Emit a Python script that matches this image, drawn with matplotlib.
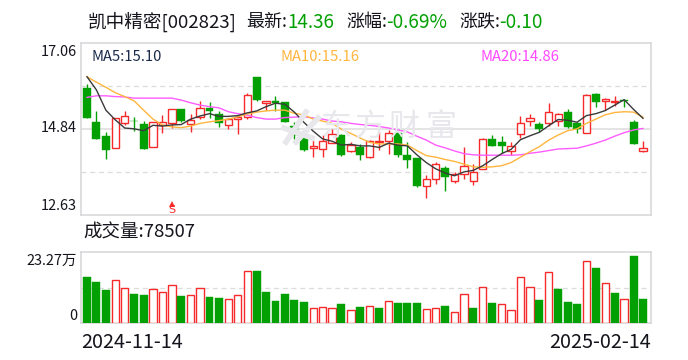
import matplotlib
matplotlib.use("Agg")
import matplotlib.pyplot as plt
from matplotlib.lines import Line2D

plt.rcParams['font.family'] = ['Noto Sans CJK SC', 'DejaVu Sans']

opens = [15.90,15.03,14.66,14.35,14.99,15.06,14.97,14.37,14.95,14.99,
         15.35,14.97,15.15,15.39,15.23,14.95,15.09,15.15,16.18,15.52,
         15.56,15.54,14.92,14.61,14.35,14.32,14.48,14.69,14.29,14.39,
         14.13,14.51,14.54,14.75,14.18,14.10,13.38,13.57,13.84,13.51,
         13.68,13.50,13.81,14.58,14.51,14.29,14.72,15.04,14.97,15.01,
         15.04,15.28,15.00,14.75,15.75,15.57,15.54,15.59,15.03,14.29]
closes = [15.14,14.60,14.31,15.13,15.17,15.04,14.34,15.02,15.02,15.35,
          15.06,15.07,15.38,15.32,15.01,15.09,15.16,15.71,15.59,15.56,
          15.51,15.03,14.70,14.30,14.40,14.54,14.71,14.18,14.43,14.18,
          14.54,14.54,14.73,14.18,14.05,13.38,13.55,13.94,13.62,13.69,
          13.88,13.75,14.58,14.42,14.42,14.42,14.99,15.12,14.85,15.27,
          15.22,14.90,14.84,15.71,15.54,15.62,15.57,15.57,14.47,14.36]
highs = [16.00,15.31,14.77,15.13,15.31,15.15,15.06,15.02,15.21,15.35,
         15.35,15.23,15.57,15.55,15.30,15.13,15.20,15.76,16.18,15.56,
         15.70,15.54,15.03,14.74,14.56,14.69,14.84,14.72,14.52,14.46,
         14.57,14.77,14.82,14.80,14.50,14.10,13.66,14.00,13.89,13.73,
         14.38,13.94,14.61,14.69,14.66,14.51,15.18,15.23,15.03,15.51,
         15.26,15.36,15.03,15.74,15.77,15.64,15.70,15.59,15.08,14.54]
lows = [15.13,14.59,14.07,14.35,14.95,14.79,14.34,14.37,14.73,14.87,
        15.03,14.76,15.09,15.12,14.90,14.85,14.72,15.09,15.56,15.33,
        15.32,15.03,14.59,14.29,14.13,14.13,14.48,14.16,14.24,14.05,
        14.11,14.30,14.20,14.13,13.85,13.34,13.07,13.43,13.26,13.46,
        13.56,13.41,13.81,14.41,14.22,14.17,14.62,14.92,14.77,14.92,
        14.93,14.87,14.75,14.75,15.41,15.33,15.44,15.41,14.47,14.25]
ma5 = [16.19,15.85,15.33,15.08,14.87,14.85,14.80,14.94,14.92,14.95,
       14.96,15.10,15.18,15.24,15.17,15.17,15.19,15.26,15.31,15.42,
       15.51,15.48,15.28,15.02,14.79,14.59,14.53,14.43,14.45,14.41,
       14.41,14.37,14.48,14.43,14.41,14.18,13.98,13.82,13.71,13.64,
       13.74,13.78,13.90,14.06,14.21,14.32,14.57,14.67,14.76,14.93,
       15.09,15.07,15.02,15.19,15.24,15.32,15.46,15.60,15.35,15.12]
ma10 = [16.19,16.05,15.92,15.78,15.68,15.57,15.33,15.10,14.95,14.90,
        14.88,14.92,14.99,15.03,15.06,15.10,15.16,15.23,15.28,15.31,
        15.33,15.33,15.25,15.21,15.10,15.05,14.99,14.84,14.73,14.61,
        14.50,14.46,14.46,14.46,14.43,14.29,14.16,14.12,14.06,14.01,
        13.94,13.87,13.86,13.87,13.90,13.98,14.12,14.26,14.39,14.56,
        14.69,14.80,14.85,14.99,15.10,15.21,15.27,15.29,15.28,15.15]
ma20 = [15.66,15.70,15.70,15.68,15.67,15.64,15.64,15.64,15.64,15.64,
        15.59,15.52,15.46,15.42,15.39,15.29,15.24,15.20,15.14,15.10,
        15.10,15.14,15.15,15.16,15.13,15.10,15.05,15.03,14.99,14.96,
        14.94,14.91,14.87,14.82,14.77,14.66,14.56,14.43,14.36,14.28,
        14.21,14.18,14.17,14.17,14.17,14.17,14.18,14.22,14.25,14.29,
        14.33,14.34,14.35,14.41,14.48,14.56,14.66,14.75,14.82,14.86]
volumes = [15.08,13.44,10.82,13.98,11.36,9.50,9.18,11.03,10.05,12.35,
           8.85,9.07,11.36,8.52,8.19,7.76,9.07,16.93,17.04,10.16,
           7.21,9.50,7.54,6.88,4.81,5.13,4.81,6.23,4.15,5.24,
           5.46,4.92,7.10,6.56,6.56,6.56,4.48,4.81,5.57,3.50,
           9.40,4.92,11.69,6.56,6.12,4.15,14.97,11.69,7.54,16.61,
           11.14,6.88,6.23,20.21,18.03,13.00,9.83,7.76,21.96,7.85]
vol_rising = [0,0,0,1,1,0,0,1,1,1,0,1,1,0,0,1,1,1,0,0,
              0,0,0,0,1,1,1,0,1,0,1,0,1,0,0,0,1,1,0,1,
              1,0,1,0,1,1,1,1,0,1,0,0,0,1,0,1,0,1,0,0]

price_ticks = [17.06, 14.84, 12.63]
vol_top = 23.27
vol_grid = 11.635
price_grid = [15.95, 14.845, 13.74]
signal_index = 9
start_label = "2024-11-14"
end_label = "2025-02-14"

RED = '#f62a2a'
GREEN = '#03a003'
BORDER = '#d6d6da'
GRID = '#dcdcdc'
INK = '#14141c'
MARK = '#e7e7ec'
W, H = 688, 360

fig = plt.figure(figsize=(W / 100, H / 100), dpi=100, facecolor='white')


def box(left, top, right, bottom):
    return [left / W, 1 - bottom / H, (right - left) / W, (bottom - top) / H]


def ptext(x, y, s, size, color=INK, ha='left', **kw):
    return fig.text(x / W, 1 - y / H, s, fontsize=size * 0.72, color=color,
                    ha=ha, va='center', **kw)


ax = fig.add_axes(box(81, 43, 651, 215))
vax = fig.add_axes(box(81, 252, 651, 323))
xlim = (-0.64, 59.85)
for a in (ax, vax):
    a.set_xlim(*xlim)
    a.set_xticks([])
    a.set_yticks([])
    for s in a.spines.values():
        s.set_color(BORDER)
        s.set_linewidth(1.1)
    a.set_axisbelow(True)
    a.patch.set_alpha(0)
ax.set_ylim(price_ticks[-1], price_ticks[0])
vax.set_ylim(0, vol_top)

# grid
ax.axhline(price_grid[0], color=GRID, lw=0.9, ls=(0, (4, 3)), zorder=1)
ax.axhline(price_grid[1], color=GRID, lw=1.1, zorder=1)
ax.axhline(price_grid[2], color=GRID, lw=0.9, ls=(0, (4, 3)), zorder=1)
vax.axhline(vol_grid, color=GRID, lw=0.9, ls=(0, (4, 3)), zorder=1)

# watermark
for cx, ch in zip((336, 370, 404, 441), "东方财富"):
    ptext(cx, 127, ch, 31, color=MARK, ha='center', weight='medium', zorder=0.6)
for seg in (((286, 142), (306, 112)), ((296, 142), (318, 118)), ((284, 128), (312, 138))):
    fig.add_artist(Line2D([seg[0][0] / W, seg[1][0] / W],
                          [1 - seg[0][1] / H, 1 - seg[1][1] / H],
                          color=MARK, lw=4, zorder=0.5))

# candles
body_w = 0.78
for i, (o, c, h, l) in enumerate(zip(opens, closes, highs, lows)):
    up = c >= o
    col = RED if up else GREEN
    ax.vlines(i, l, h, color=col, lw=1.0, zorder=2)
    lo, hi = min(o, c), max(o, c)
    if up:
        ax.bar(i, hi - lo, bottom=lo, width=body_w, facecolor='white',
               edgecolor=col, linewidth=1.0, zorder=3)
    else:
        ax.bar(i, hi - lo, bottom=lo, width=body_w + 0.06, facecolor=col,
               edgecolor=col, linewidth=0.3, zorder=3)

# moving averages
xs = list(range(len(closes)))
ax.plot(xs, ma20, color='#ff5cff', lw=1.0, zorder=4)
ax.plot(xs, ma10, color='#ffb53e', lw=1.0, zorder=4)
ax.plot(xs, ma5, color='#3a3a3a', lw=1.0, zorder=5)

# signal mark
ax.annotate('S', xy=(signal_index, 12.76), ha='center', va='center',
            fontsize=8, color=RED, family='DejaVu Sans', zorder=6)
ax.plot([signal_index], [12.92], marker='^', ms=4, color=RED, mew=0, zorder=6)

# volume
for i, (v, r) in enumerate(zip(volumes, vol_rising)):
    if r:
        vax.bar(i, v, width=body_w, facecolor='white', edgecolor=RED,
                linewidth=1.0, zorder=3)
    else:
        vax.bar(i, v, width=body_w + 0.06, facecolor=GREEN, edgecolor=GREEN,
                linewidth=0.3, zorder=3)

# header
ptext(88, 22, "凯中精密[002823]", 18.6)
ptext(246, 22, "最新:", 18)
ptext(287, 22, "14.36", 18.8, color=GREEN)
ptext(346, 22, "涨幅:", 18)
ptext(386, 22, "-0.69%", 19, color=GREEN)
ptext(459, 22, "涨跌:", 18)
ptext(499, 22, "-0.10", 19, color=GREEN)

# MA labels
ptext(91, 57, "MA5:15.10", 14.7, color='#1a2a4a')
ptext(280, 57, "MA10:15.16", 14.8, color='#ffb53e')
ptext(481, 57, "MA20:14.86", 14.8, color='#ff48ff')

# price axis labels
ptext(77, 52, f"{price_ticks[0]:.2f}", 14.5, ha='right')
ptext(77, 128, f"{price_ticks[1]:.2f}", 14.5, ha='right')
ptext(77, 206, f"{price_ticks[2]:.2f}", 14.5, ha='right')

# volume labels
ptext(83, 233, "成交量:78507", 18.5)
ptext(77, 261, "23.27万", 14.5, ha='right')
ptext(77, 316, "0", 14.5, ha='right')

# dates
ptext(81, 342, start_label, 19.8)
ptext(651, 342, end_label, 19.8, ha='right')

fig.savefig('out.png', dpi=100, facecolor='white')
